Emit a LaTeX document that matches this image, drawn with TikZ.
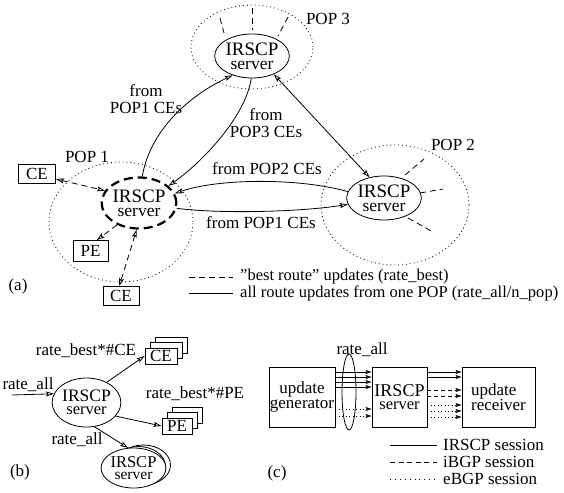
\documentclass[tikz,border=0pt]{standalone}
\usepackage{fontspec}
\setmainfont{Liberation Serif}
\usetikzlibrary{shapes.geometric,arrows.meta}
\begin{document}
\begin{tikzpicture}[x=1pt,y=-1pt,
  >={Stealth[open,length=8pt,width=5pt,inset=1.5pt]},
  lbl/.style={font=\fontsize{17}{17}\selectfont, inner sep=0pt, align=center},
  srv/.style={ellipse, draw, line width=0.8pt, inner sep=0pt, align=center, font=\fontsize{19}{14}\selectfont},
  popell/.style={ellipse, draw, inner sep=0pt, line width=0.8pt, dash pattern=on 0.9pt off 3pt},
  ebox/.style={rectangle, draw, line width=0.8pt, inner sep=0pt, fill=white, font=\fontsize{17}{17}\selectfont},
  conn/.style={line width=0.8pt},
  dconn/.style={line width=0.8pt, dash pattern=on 6pt off 4pt},
  dotconn/.style={line width=0.8pt, dash pattern=on 0.9pt off 2.6pt},
  sarr/.style={-{Stealth[open,length=6pt,width=4pt,inset=1pt]}},
]
\useasboundingbox (0,0) rectangle (564,492);

% ---------------- (a) ----------------
% POP 3
\node[popell, minimum width=122pt, minimum height=84pt] (pop3) at (252,47) {};
\node[srv, minimum width=70pt, minimum height=44pt, fill=white] (s3) at (252,56) {IRSCP\\{\fontsize{17.5}{14}\selectfont server}};
\node[lbl] (pop3l) at (328,19) {POP 3};
\coordinate (p3a1) at (220,18); \coordinate (p3a2) at (224,33);
\coordinate (p3b1) at (252,8);  \coordinate (p3b2) at (252,30);
\coordinate (p3c1) at (288,17); \coordinate (p3c2) at (278,36);
\draw[dconn] (p3a1) -- (p3a2);
\draw[dconn] (p3b1) -- (p3b2);
\draw[dconn] (p3c1) -- (p3c2);

% POP 1
\node[popell, minimum width=144pt, minimum height=120pt] (pop1) at (121,222) {};
\node[srv, minimum width=73pt, minimum height=51pt, line width=2.2pt, dash pattern=on 9pt off 5pt] (s1) at (139,203) {IRSCP\\{\fontsize{17.5}{14}\selectfont server}};
\node[lbl] (pop1l) at (87,157) {POP 1};
\node[ebox, minimum width=37pt, minimum height=19pt] (ce1) at (37,174) {CE};
\node[ebox, minimum width=35pt, minimum height=21pt] (pe1) at (90.5,251) {PE};
\node[ebox, minimum width=36pt, minimum height=19pt] (ce2) at (121,296) {CE};

% POP 2
\node[popell, minimum width=148pt, minimum height=120pt] (pop2) at (395,205) {};
\node[srv, minimum width=72pt, minimum height=44pt] (s2) at (384,198) {IRSCP\\{\fontsize{17.5}{14}\selectfont server}};
\node[lbl] (pop2l) at (453,145) {POP 2};
\coordinate (p2a1) at (405,175); \coordinate (p2a2) at (424,159);
\coordinate (p2b1) at (420,193); \coordinate (p2b2) at (443,189);
\coordinate (p2c1) at (408,218); \coordinate (p2c2) at (433,232);
\draw[dconn] (p2a1) -- (p2a2);
\draw[dconn] (p2b1) -- (p2b2);
\draw[dconn] (p2c1) -- (p2c2);

% inter-POP connectors
\draw[conn,->] (s1.83) .. controls (150,130) and (190,95) .. (s3.-135);
\node[lbl] (l1) at (146,99) {from\\POP1 CEs};
\draw[conn,->] (s3.-92) .. controls (246,115) and (205,160) .. (s1.30);
\node[lbl] (l2) at (266,123) {from\\POP3 CEs};
\draw[conn,<->] (s3.-40) -- (s2.125);
\draw[conn,->] (s2.170) .. controls (300,178) and (220,178) .. (s1.15);
\node[lbl] (l3) at (267,169) {from POP2 CEs};
\draw[conn,->] (s1.-8) .. controls (220,214) and (300,212) .. (s2.190);
\node[lbl] (l4) at (261,223) {from POP1 CEs};

% intra-POP1 dashed
\draw[dconn,<->] (ce1.-15) -- (s1.160);
\draw[dconn,->] (s1.-135) -- (pe1.60);
\draw[dconn,<->] (s1.-95) -- (ce2.100);

% legend (a)
\coordinate (lga1) at (189,277); \coordinate (lga2) at (233,277);
\coordinate (lgb1) at (189,293); \coordinate (lgb2) at (233,293);
\draw[dconn] (lga1) -- (lga2);
\draw[conn] (lgb1) -- (lgb2);
\node[lbl, anchor=west, font=\fontsize{16.5}{17}\selectfont] (lgat) at (240,277) {\symbol{34}best route\symbol{34} updates (rate\_best)};
\node[lbl, anchor=west, font=\fontsize{16.5}{17}\selectfont] (lgbt) at (240,293) {all route updates from one POP (rate\_all/n\_pop)};
\node[lbl] (ta) at (18,286) {(a)};

% ---------------- (b) ----------------
\node[srv, minimum width=54pt, minimum height=49pt, font=\fontsize{17.5}{13}\selectfont] (sb) at (86.5,402.5) {IRSCP\\{\fontsize{16.5}{13}\selectfont server}};
\coordinate (bin) at (12,395);
\draw[conn,->] (bin) -- (sb.165);
\node[lbl] (lb1) at (28,385) {rate\_all};
% CE stack
\node[ebox, minimum width=32pt, minimum height=16pt] (ceb3) at (171,345) {};
\node[ebox, minimum width=32pt, minimum height=16pt] (ceb2) at (166,350.5) {};
\node[ebox, minimum width=32pt, minimum height=16pt] (ceb1) at (161,356) {CE};
\draw[conn,->] (sb.45) -- (ceb1.west);
\node[lbl] (lb2) at (86,351) {rate\_best*\#CE};
% PE stack
\node[ebox, minimum width=30pt, minimum height=16pt] (peb3) at (187,415) {};
\node[ebox, minimum width=30pt, minimum height=16pt] (peb2) at (182,420.5) {};
\node[ebox, minimum width=30pt, minimum height=16pt] (peb1) at (177,426) {PE};
\draw[conn,->] (sb.-25) -- (peb1.west);
\node[lbl] (lb3) at (195,394) {rate\_best*\#PE};
% server stack
\node[srv, minimum width=54pt, minimum height=40pt, fill=white] (sbs3) at (143.5,465) {};
\node[srv, minimum width=54pt, minimum height=40pt, fill=white] (sbs2) at (138.5,466.5) {};
\node[srv, minimum width=54pt, minimum height=40pt, fill=white, font=\fontsize{16.5}{12}\selectfont] (sbs1) at (133.5,468) {IRSCP\\{\fontsize{15.5}{12}\selectfont server}};
\draw[conn,->] (sb.-72) -- (sbs1.105);
\node[lbl] (lb4) at (77,440) {rate\_all};
\node[lbl] (tb) at (20,472) {(b)};

% ---------------- (c) ----------------
\node[rectangle, draw, line width=0.8pt, minimum width=66pt, minimum height=60pt, inner sep=0pt, align=center, font=\fontsize{17}{15}\selectfont] (gen) at (302,397) {update\\generator};
\node[rectangle, draw, line width=0.8pt, minimum width=55pt, minimum height=60pt, inner sep=0pt, align=center, font=\fontsize{18}{13}\selectfont] (srvc) at (399.5,397) {IRSCP\\{\fontsize{16.5}{13}\selectfont server}};
\node[rectangle, draw, line width=0.8pt, minimum width=73pt, minimum height=60pt, inner sep=0pt, align=left, font=\fontsize{17}{15}\selectfont] (rcv) at (498.5,397) {update\\receiver};

\foreach \yy in {372,377,382,387} {
  \draw[conn,sarr] (gen.east |- 0,\yy) -- (srvc.west |- 0,\yy);
}
\foreach \yy in {409,416} {
  \draw[dotconn,sarr] (gen.east |- 0,\yy) -- (srvc.west |- 0,\yy);
}
\foreach \yy in {372,377} {
  \draw[conn,sarr] (srvc.east |- 0,\yy) -- (rcv.west |- 0,\yy);
}
\foreach \yy in {390,396} {
  \draw[line width=0.8pt, dash pattern=on 4pt off 3pt, sarr] (srvc.east |- 0,\yy) -- (rcv.west |- 0,\yy);
}
\foreach \yy in {405,411,417} {
  \draw[dotconn,sarr] (srvc.east |- 0,\yy) -- (rcv.west |- 0,\yy);
}
\node[ellipse, draw, line width=0.8pt, minimum width=14pt, minimum height=76pt, inner sep=0pt] (oval) at (349,392) {};
\node[lbl] (lc1) at (362,350) {rate\_all};

% legend (c)
\coordinate (lc1a) at (390,445); \coordinate (lc1b) at (437,445);
\coordinate (lc2a) at (390,462); \coordinate (lc2b) at (437,462);
\coordinate (lc3a) at (390,479); \coordinate (lc3b) at (437,479);
\draw[conn] (lc1a) -- (lc1b);
\draw[line width=0.8pt, dash pattern=on 5pt off 3.5pt] (lc2a) -- (lc2b);
\draw[dotconn, dash pattern=on 0.9pt off 4pt] (lc3a) -- (lc3b);
\node[lbl, anchor=west] (lc1t) at (443,445) {IRSCP session};
\node[lbl, anchor=west] (lc2t) at (443,462) {iBGP session};
\node[lbl, anchor=west] (lc3t) at (443,479) {eBGP session};
\node[lbl] (tc) at (277,473) {(c)};
\end{tikzpicture}
\end{document}
